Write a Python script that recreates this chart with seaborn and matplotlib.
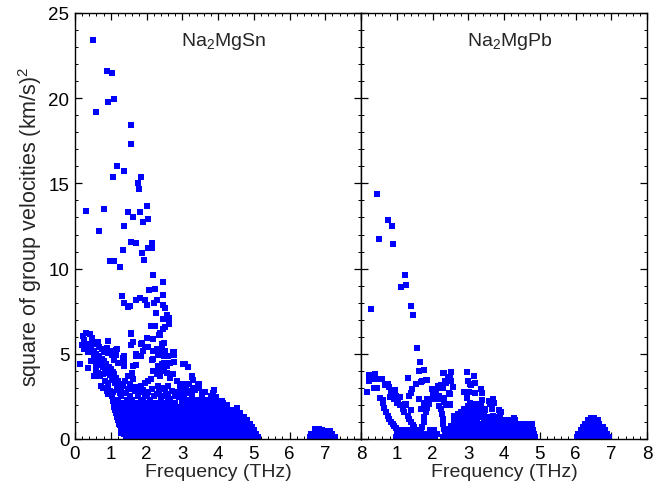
import matplotlib
matplotlib.use("Agg")
import matplotlib.pyplot as plt
import pandas as pd
import seaborn as sns
from matplotlib.ticker import MultipleLocator

# ---------------- data ----------------
# Na2MgSn : isolated points (frequency THz, v^2 (km/s)^2)
sn_pts = [
    (0.50, 23.4), (0.89, 21.6), (1.03, 21.5), (0.91, 19.8), (1.08, 19.95), (0.58, 19.2),
    (1.56, 18.4), (1.56, 17.3), (1.17, 16.0), (1.36, 15.7), (1.05, 15.4), (1.84, 15.4),
    (1.75, 15.0), (1.78, 14.7), (2.00, 13.7), (0.30, 13.4), (0.80, 13.5), (1.47, 13.3),
    (1.81, 13.3), (1.61, 13.0), (1.89, 12.75), (2.03, 12.93), (1.36, 12.52), (0.66, 12.23),
    (1.56, 11.58), (1.70, 11.52), (2.14, 11.52), (2.03, 11.23), (2.14, 11.23), (1.33, 11.1),
    (1.87, 10.94), (1.92, 10.53), (0.99, 10.42), (1.08, 10.42), (1.25, 10.12), (2.17, 9.6),
    (2.45, 9.19), (2.06, 8.72), (2.23, 8.78), (2.45, 8.43), (1.31, 8.37), (1.70, 8.14),
    (1.81, 8.25), (1.95, 8.14), (2.29, 8.14), (1.36, 7.96), (2.00, 7.84), (2.20, 7.96),
    (2.45, 7.84), (1.47, 7.73), (1.53, 7.79), (2.51, 7.67), (2.26, 7.38), (2.45, 7.03),
    (2.62, 7.09), (2.56, 7.26), (2.62, 6.73), (2.51, 6.56), (2.12, 6.62), (2.23, 6.62),
    (1.56, 6.21), (2.37, 6.09), (2.37, 6.20), (2.00, 5.92), (2.17, 5.86), (1.61, 5.68),
    (1.87, 5.63), (2.03, 5.39), (1.70, 4.87), (1.84, 4.87), (2.17, 5.16), (2.28, 5.22),
    (2.42, 5.57), (2.45, 5.16), (2.48, 4.87), (2.76, 5.10), (2.76, 4.92), (2.14, 4.63),
    (2.31, 4.92), (2.45, 4.40), (2.56, 4.40), (3.07, 4.40), (3.15, 4.22), (2.17, 3.99),
    (2.28, 3.93), (2.48, 4.05), (2.58, 4.28), (3.26, 3.69), (3.29, 3.46), (3.46, 3.23),
    (3.46, 3.05), (3.18, 3.23), (3.07, 3.17), (2.95, 3.11), (3.88, 2.88), (3.85, 2.70),
    (3.65, 2.24), (3.74, 2.30), (3.54, 2.76), (3.26, 2.65), (3.18, 2.70), (4.10, 2.24),
    (4.24, 1.95), (3.96, 2.18), (3.08, 4.38), (3.16, 4.20), (3.27, 3.66), (3.31, 3.47),
    (3.20, 3.21), (3.08, 3.15), (2.98, 3.11), (3.31, 3.02), (3.45, 3.25), (3.48, 3.02),
    (2.96, 2.73), (3.05, 2.57), (3.22, 2.82), (3.26, 2.63), (3.89, 2.88), (3.85, 2.69),
    (3.81, 2.53), (4.15, 2.14), (4.24, 1.98), (4.52, 1.79),
    (0.31, 6.23), (0.42, 6.15), (0.21, 6.04), (0.48, 5.94), (0.48, 5.74), (0.56, 5.55),
    (0.65, 5.69), (0.67, 5.41), (0.75, 5.26), (0.82, 5.10), (0.91, 5.74), (0.89, 5.36),
    (0.93, 5.06), (1.01, 5.16), (1.04, 4.91), (1.10, 4.63), (1.17, 5.26), (1.12, 4.97),
    (1.21, 4.48), (1.35, 4.77), (1.38, 4.48), (1.57, 6.19), (1.63, 5.69), (1.86, 5.55),
    (1.91, 5.16), (1.82, 4.87), (1.96, 5.41), (2.00, 5.94), (2.36, 6.08), (2.47, 6.43),
    (2.63, 6.72), (2.50, 5.65), (2.44, 5.36), (2.52, 5.16), (2.59, 4.87), (2.75, 5.10),
    (2.78, 4.91), (2.24, 5.16), (2.19, 4.67), (2.28, 5.30), (1.72, 4.97), (1.77, 4.87),
    (1.61, 4.28), (1.72, 4.32), (2.33, 4.28), (2.42, 4.38), (2.50, 4.48), (2.66, 4.48),
    (2.78, 4.52), (3.03, 4.38), (0.19, 5.51), (0.26, 5.30), (0.37, 5.10), (0.14, 4.42),
    (0.35, 4.17), (0.45, 4.58), (0.54, 4.87), (0.58, 3.99), (0.63, 3.89), (0.70, 3.70),
    (0.79, 3.80), (0.84, 3.41), (0.93, 3.31), (0.91, 3.12), (0.98, 2.82), (1.03, 2.53),
    (1.07, 2.24), (0.73, 3.12), (0.79, 3.02), (0.89, 2.82), (0.93, 2.63), (1.07, 2.73),
    (1.17, 2.92), (1.26, 3.21), (1.35, 3.12), (1.40, 3.41), (1.49, 3.70), (1.59, 3.89),
    (1.63, 3.51), (1.54, 3.21), (1.49, 2.92), (1.68, 2.82), (1.77, 2.53), (1.86, 3.12),
    (1.96, 3.31), (2.05, 3.41), (2.13, 3.51), (2.24, 3.99), (2.28, 3.80), (2.38, 3.70),
    (2.47, 3.99), (2.56, 3.89), (2.66, 3.60), (2.75, 3.80), (2.84, 3.41), (2.94, 3.12),
    (3.03, 3.21), (2.33, 3.12), (2.42, 3.02), (2.52, 2.92), (2.61, 3.12), (2.70, 2.82),
    (2.14, 2.92), (2.00, 2.53), (1.91, 2.24), (2.28, 2.63), (2.47, 2.53), (2.66, 2.34),
    (2.80, 2.53), (2.98, 2.63), (0.13, 4.40), (0.35, 4.17), (0.54, 3.70), (0.60, 3.87),
    (0.58, 4.22), (0.44, 4.57), (0.55, 4.86), (0.63, 4.80), (1.14, 5.22), (1.14, 4.92),
    (1.36, 4.87), (1.36, 4.57), (1.36, 4.28), (1.58, 5.50), (1.30, 0.35), (1.27, 0.80),
    (0.25, 5.80), (0.33, 5.60), (0.40, 5.45), (0.45, 5.30), (0.52, 5.15), (0.60, 5.00),
    (0.68, 4.85), (0.75, 4.70), (0.82, 4.55), (0.88, 4.40), (0.95, 4.25), (1.00, 4.10),
    (1.05, 3.95), (1.10, 3.80), (1.15, 3.60), (1.20, 3.40), (1.25, 3.20), (0.62, 4.50),
    (0.70, 4.35), (0.78, 4.20), (0.85, 4.05), (0.92, 3.90), (0.98, 3.75), (1.03, 3.60),
    (1.08, 3.45), (1.13, 3.30), (1.18, 3.10), (1.22, 2.90), (1.27, 2.70), (1.30, 2.50),
    (1.30, 3.00), (1.42, 2.70), (1.55, 2.55), (1.60, 2.95), (1.70, 3.05), (1.80, 2.75),
    (1.90, 2.90), (1.95, 2.60), (2.05, 2.75), (2.20, 2.50), (2.35, 2.85), (2.55, 2.65),
    (2.60, 2.45), (2.85, 2.75), (2.90, 2.45), (3.10, 2.95), (3.35, 2.85), (3.55, 2.50),
    (3.65, 2.75), (3.95, 2.45),
    (6.72, 0.56), (6.82, 0.56), (6.90, 0.55), (7.02, 0.47), (7.12, 0.46),
]

# Na2MgSn : saturated regions, one list of frequencies per v^2 level
sn_rows_y = [0.10, 0.30, 0.50, 0.70, 0.90, 1.10, 1.30, 1.50, 1.70, 1.90, 2.10, 2.30]
sn_rows_x = [
    [1.44, 1.54, 1.64, 1.74, 1.84, 1.94, 2.04, 2.14, 2.24, 2.34, 2.44, 2.54, 2.64, 2.74, 2.84, 2.94,
     3.04, 3.14, 3.24, 3.34, 3.44, 3.54, 3.64, 3.74, 3.84, 3.94, 4.04, 4.14, 4.24, 4.34, 4.44, 4.54,
     4.64, 4.74, 4.84, 4.94, 5.04, 5.13, 6.56, 6.66, 6.76, 6.86, 6.96, 7.06, 7.16, 7.26],
    [1.37, 1.47, 1.57, 1.67, 1.77, 1.87, 1.97, 2.07, 2.17, 2.27, 2.37, 2.47, 2.57, 2.67, 2.77, 2.87,
     2.97, 3.07, 3.17, 3.27, 3.37, 3.47, 3.57, 3.67, 3.77, 3.87, 3.97, 4.07, 4.17, 4.27, 4.37, 4.47,
     4.57, 4.67, 4.77, 4.87, 4.97, 5.07, 6.60, 6.70, 6.80, 6.90, 7.00, 7.10, 7.20],
    [1.32, 1.42, 1.52, 1.62, 1.72, 1.82, 1.92, 2.02, 2.12, 2.22, 2.32, 2.42, 2.52, 2.62, 2.72, 2.82,
     2.92, 3.02, 3.12, 3.22, 3.32, 3.42, 3.52, 3.62, 3.72, 3.82, 3.92, 4.02, 4.12, 4.22, 4.32, 4.42,
     4.52, 4.62, 4.72, 4.82, 4.92, 5.01],
    [1.28, 1.38, 1.48, 1.58, 1.68, 1.78, 1.88, 1.98, 2.08, 2.18, 2.28, 2.38, 2.48, 2.58, 2.68, 2.78,
     2.88, 2.98, 3.08, 3.18, 3.28, 3.38, 3.48, 3.58, 3.68, 3.78, 3.88, 3.98, 4.08, 4.18, 4.28, 4.38,
     4.48, 4.58, 4.68, 4.78, 4.88, 4.96],
    [1.24, 1.34, 1.44, 1.54, 1.64, 1.74, 1.84, 1.94, 2.04, 2.14, 2.24, 2.34, 2.44, 2.54, 2.64, 2.74,
     2.84, 2.94, 3.04, 3.14, 3.24, 3.34, 3.44, 3.54, 3.64, 3.74, 3.84, 3.94, 4.04, 4.14, 4.24, 4.34,
     4.44, 4.54, 4.64, 4.74, 4.84, 4.90],
    [1.20, 1.30, 1.40, 1.50, 1.60, 1.70, 1.80, 1.90, 2.00, 2.10, 2.20, 2.30, 2.40, 2.50, 2.60, 2.70,
     2.80, 2.90, 3.00, 3.10, 3.20, 3.30, 3.40, 3.50, 3.60, 3.70, 3.80, 3.90, 4.00, 4.10, 4.20, 4.30,
     4.40, 4.50, 4.60, 4.70, 4.80],
    [1.17, 1.27, 1.37, 1.47, 1.57, 1.67, 1.77, 1.87, 1.97, 2.07, 2.17, 2.27, 2.37, 2.47, 2.57, 2.67,
     2.77, 2.87, 2.97, 3.07, 3.17, 3.27, 3.37, 3.47, 3.57, 3.67, 3.77, 3.87, 3.97, 4.07, 4.17, 4.27,
     4.37, 4.47, 4.57, 4.67, 4.72],
    [1.15, 1.25, 1.35, 1.45, 1.55, 1.65, 1.75, 1.85, 1.95, 2.05, 2.15, 2.25, 2.35, 2.45, 2.55, 2.65,
     2.75, 2.85, 2.95, 3.05, 3.15, 3.25, 3.35, 3.45, 3.55, 3.65, 3.75, 3.85, 3.95, 4.05, 4.15, 4.25,
     4.35, 4.45, 4.55, 4.61],
    [1.12, 1.22, 1.32, 1.42, 1.52, 1.62, 1.72, 1.82, 1.92, 2.02, 2.12, 2.22, 2.32, 2.42, 2.52, 2.62,
     2.72, 2.82, 2.92, 3.02, 3.12, 3.22, 3.32, 3.42, 3.52, 3.62, 3.72, 3.82, 3.92, 4.02, 4.12, 4.22,
     4.32, 4.42, 4.47],
    [1.10, 1.20, 1.30, 1.40, 1.50, 1.60, 1.70, 1.80, 1.90, 2.00, 2.10, 2.20, 2.30, 2.40, 2.50, 2.60,
     2.70, 2.80, 2.90, 3.00, 3.10, 3.20, 3.30, 3.40, 3.50, 3.60, 3.70, 3.80, 3.90, 4.00, 4.10, 4.16],
    [1.12, 1.25, 1.40, 1.52, 1.62, 1.75, 1.88, 2.00, 2.15, 2.30, 2.45, 2.55, 2.68, 2.80, 3.00, 3.10,
     3.20, 3.30, 3.40, 3.50, 3.60, 3.70, 3.80, 3.90, 4.00, 4.10],
    [1.20, 1.45, 1.60, 1.85, 2.10, 2.40, 2.60, 3.05, 3.15, 3.25, 3.35, 3.45, 3.55, 3.65, 3.75, 3.86],
]

# Na2MgPb : isolated points
pb_pts = [
    (0.44, 14.39), (0.75, 12.87), (0.86, 12.52), (0.49, 11.76), (0.89, 11.47), (1.22, 9.60),
    (1.25, 9.02), (1.11, 8.90), (0.27, 7.61), (1.39, 7.79), (1.45, 7.26), (1.56, 5.33),
    (1.64, 4.51), (1.61, 3.99), (1.75, 4.05), (2.28, 3.87), (2.51, 3.93), (2.96, 3.93),
    (3.15, 3.69), (2.42, 3.64), (2.34, 3.40), (2.51, 3.40), (2.37, 3.28), (2.56, 3.05),
    (3.07, 3.18), (3.18, 3.29), (2.98, 3.41),
    (2.17, 3.12), (2.14, 3.00), (2.09, 2.82), (1.98, 2.94), (1.84, 3.47), (1.70, 3.41),
    (1.53, 3.23), (1.42, 2.94), (1.39, 2.71), (1.33, 2.53), (1.22, 2.07), (1.25, 2.01),
    (1.39, 1.72), (1.67, 1.77), (1.81, 1.89), (1.84, 2.24), (1.86, 2.36), (1.98, 2.36),
    (2.14, 2.36), (2.17, 2.53), (2.31, 2.42), (2.37, 2.01), (2.48, 2.01), (2.31, 2.18),
    (2.48, 2.65), (2.87, 2.77), (2.96, 2.42), (3.18, 2.71), (3.35, 2.94), (3.38, 2.71),
    (3.38, 2.30), (3.35, 2.01), (3.57, 2.24), (3.68, 2.36), (3.71, 2.12), (3.60, 2.07),
    (3.66, 1.77), (3.46, 1.77), (3.29, 1.83), (3.24, 1.60), (3.07, 1.77), (3.04, 1.89),
    (3.21, 2.07), (2.96, 1.60), (2.82, 1.36), (2.62, 1.36), (3.85, 1.72), (3.93, 1.60),
    (3.88, 1.42), (3.82, 1.25), (3.68, 1.36), (3.52, 1.25), (3.38, 1.36), (4.27, 1.25),
    (4.68, 0.90), (4.77, 0.90),
    (0.21, 3.76), (0.38, 3.82), (0.21, 3.41), (0.30, 3.53), (0.44, 3.53), (0.58, 3.53),
    (0.16, 2.77), (0.35, 3.00), (0.44, 3.00), (0.52, 2.41), (0.61, 2.30), (0.66, 3.18),
    (0.75, 3.23), (0.77, 3.06), (0.94, 2.88), (0.83, 2.71), (0.97, 2.53), (1.08, 2.47),
    (1.03, 2.18), (1.11, 2.01), (1.25, 2.07),
    (0.61, 2.14), (0.65, 1.79), (0.70, 1.56), (0.75, 1.36), (0.79, 1.17), (0.84, 1.01),
    (0.89, 0.88), (0.93, 0.74), (0.99, 0.62), (1.04, 0.49),
    (0.82, 2.49), (0.91, 2.34), (1.01, 2.14), (1.10, 1.99), (1.17, 1.75), (1.21, 1.60),
    (1.31, 1.36), (1.35, 1.17), (1.40, 0.97), (1.45, 0.82), (1.49, 0.68), (1.54, 0.49),
    (1.59, 0.29),
    (2.24, 3.16), (2.10, 2.92), (2.00, 2.63), (1.96, 2.34), (1.91, 2.05), (1.86, 1.79),
    (1.82, 1.56), (1.77, 1.27), (1.75, 0.97), (1.72, 0.68), (1.68, 0.39),
    (2.19, 1.95), (2.24, 1.75), (2.27, 1.46), (2.28, 1.17), (2.28, 0.88), (2.31, 0.58),
    (2.35, 0.29), (2.42, 0.29), (2.47, 0.58), (2.52, 0.78), (2.61, 1.07), (2.70, 1.36),
    (2.80, 1.56), (2.89, 1.75), (2.98, 1.95), (3.06, 2.14),
    (1.54, 3.21), (1.68, 3.35), (1.82, 3.47), (1.63, 2.34), (1.77, 2.14), (2.00, 2.92),
    (2.14, 3.12), (2.33, 3.86), (2.52, 3.93), (2.50, 3.60), (2.38, 3.41), (2.28, 3.02),
    (2.47, 2.69), (2.50, 2.05), (2.41, 1.99), (2.33, 2.30), (2.61, 1.33), (2.70, 1.46),
    (3.05, 3.21), (3.03, 2.73), (1.31, 3.60),
]

# Na2MgPb : saturated regions, one list of frequencies per v^2 level
pb_rows_y = [0.10, 0.30, 0.50, 0.70, 0.90, 1.10, 1.24, 1.30, 1.50, 1.70]
pb_rows_x = [
    [0.98, 1.08, 1.18, 1.28, 1.38, 1.48, 1.58, 1.68, 1.78, 1.88, 1.98, 2.07, 2.30, 2.40, 2.50, 2.60,
     2.70, 2.80, 2.90, 3.00, 3.10, 3.20, 3.30, 3.40, 3.50, 3.60, 3.70, 3.80, 3.90, 4.00, 4.10, 4.20,
     4.30, 4.40, 4.50, 4.60, 4.70, 4.80, 4.88, 6.05, 6.15, 6.25, 6.35, 6.45, 6.55, 6.65, 6.75, 6.85,
     6.93],
    [1.00, 1.10, 1.20, 1.30, 1.40, 1.50, 1.60, 1.70, 1.86, 1.96, 2.06, 2.13, 2.38, 2.48, 2.58, 2.68,
     2.78, 2.88, 2.98, 3.08, 3.18, 3.28, 3.38, 3.48, 3.58, 3.68, 3.78, 3.88, 3.98, 4.08, 4.18, 4.28,
     4.38, 4.48, 4.58, 4.68, 4.78, 4.85, 6.08, 6.18, 6.28, 6.38, 6.48, 6.58, 6.68, 6.78, 6.88],
    [1.05, 1.15, 1.25, 1.35, 1.45, 1.55, 1.93, 2.03, 2.45, 2.55, 2.65, 2.75, 2.85, 2.95, 3.05, 3.15,
     3.25, 3.35, 3.45, 3.55, 3.65, 3.75, 3.85, 3.95, 4.05, 4.15, 4.25, 4.35, 4.45, 4.55, 4.65, 4.75,
     4.80, 6.14, 6.24, 6.34, 6.44, 6.54, 6.64, 6.74, 6.82],
    [2.55, 2.65, 2.75, 2.85, 2.95, 3.05, 3.15, 3.25, 3.35, 3.45, 3.55, 3.65, 3.85, 3.95, 4.05, 4.15,
     4.25, 4.35, 4.45, 4.55, 4.65, 4.73, 6.20, 6.30, 6.40, 6.50, 6.60, 6.70, 6.76],
    [2.62, 2.72, 2.82, 2.92, 3.02, 3.12, 3.22, 3.32, 3.42, 3.52, 3.62, 3.72, 3.82, 3.92, 4.02, 4.10,
     4.25, 4.40, 4.50, 4.60, 4.70, 6.27, 6.37, 6.47, 6.57, 6.67],
    [2.65, 2.75, 2.85, 2.95, 3.05, 3.15, 3.25, 3.45, 3.55, 3.65, 3.75, 3.85, 3.95, 4.05, 4.15, 4.30,
     6.35, 6.45, 6.55, 6.62],
    [6.42, 6.52],
    [2.66, 2.78, 2.90, 3.00, 3.10, 3.20, 3.30, 3.40, 3.50, 3.62, 3.75, 3.90],
    [2.80, 2.95, 3.05, 3.15, 3.25, 3.35, 3.45],
    [3.10, 3.22, 3.35, 3.48],
]

panel_titles = ["Na$_2$MgSn", "Na$_2$MgPb"]
x_label = "Frequency (THz)"
y_label = "square of group velocities (km/s)$^2$"


def to_frame(pts, rows_y, rows_x):
    xs = [p[0] for p in pts]
    ys = [p[1] for p in pts]
    for yv, row in zip(rows_y, rows_x):
        xs.extend(row)
        ys.extend([yv] * len(row))
    return pd.DataFrame({"freq": xs, "v2": ys})


sn_df = to_frame(sn_pts, sn_rows_y, sn_rows_x)
pb_df = to_frame(pb_pts, pb_rows_y, pb_rows_x)

# ---------------- styling ----------------
sns.set_style("ticks")
plt.rcParams["font.family"] = ["Liberation Sans", "DejaVu Sans"]
plt.rcParams["mathtext.fontset"] = "custom"
plt.rcParams["mathtext.rm"] = "Liberation Sans"
plt.rcParams["mathtext.it"] = "Liberation Sans:italic"
plt.rcParams["axes.edgecolor"] = "black"
plt.rcParams["axes.linewidth"] = 1.0

W, H = 656, 489
fig = plt.figure(figsize=(W / 100, H / 100), dpi=100)
left, right, bottom, top = 75, 647, 440, 14
mid = 361
ax1 = fig.add_axes([left / W, 1 - bottom / H, (mid - left) / W, (bottom - top) / H])
ax2 = fig.add_axes([mid / W, 1 - bottom / H, (right - mid) / W, (bottom - top) / H])

for ax, df, title in [(ax1, sn_df, panel_titles[0]), (ax2, pb_df, panel_titles[1])]:
    sns.scatterplot(data=df, x="freq", y="v2", marker="s", s=13, color="#0000ff",
                    linewidth=0, ax=ax, legend=False)
    ax.set_xlim(0, 8)
    ax.set_ylim(0, 25)
    ax.xaxis.set_major_locator(MultipleLocator(1))
    ax.xaxis.set_minor_locator(MultipleLocator(0.2))
    ax.yaxis.set_major_locator(MultipleLocator(5))
    ax.yaxis.set_minor_locator(MultipleLocator(1))
    ax.tick_params(which="both", direction="in", top=True, right=True,
                   labelsize=13.5, colors="black")
    ax.tick_params(which="major", length=5, width=0.9, pad=4)
    ax.tick_params(which="minor", length=2.5, width=0.7)
    ax.set_xlabel(x_label, fontsize=14, labelpad=1)
    ax.text(0.52, 0.96, title, transform=ax.transAxes, ha="center", va="top", fontsize=14)
    for sp in ax.spines.values():
        sp.set_visible(True)
        sp.set_color("black")

ax1.set_ylabel(y_label, fontsize=15.5, labelpad=3)
ax2.set_ylabel("")
ax2.tick_params(labelleft=False)
ax2.set_xticks(range(9))
ax2.set_xticklabels([""] + [str(i) for i in range(1, 9)])

fig.savefig("out.png", dpi=100)
